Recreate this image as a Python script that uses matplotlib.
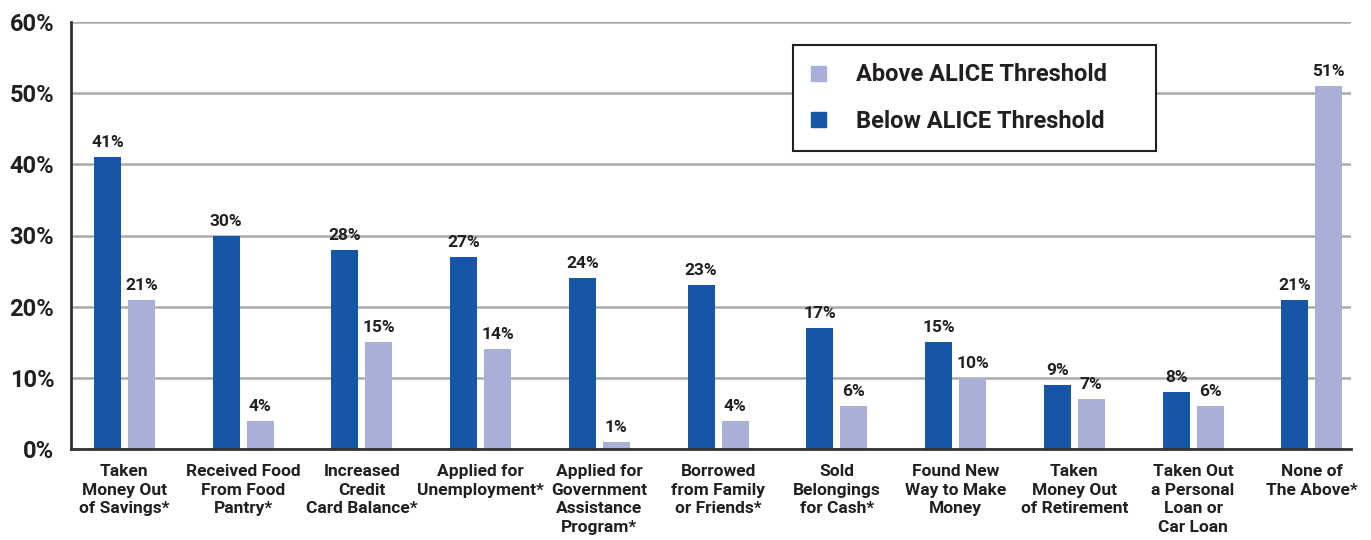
import numpy as np
import matplotlib.pyplot as plt
from matplotlib.patches import Patch

plt.rcParams['font.family'] = ['Roboto', 'DejaVu Sans']

categories = [
    "Taken\nMoney Out\nof Savings*",
    "Received Food\nFrom Food\nPantry*",
    "Increased\nCredit\nCard Balance*",
    "Applied for\nUnemployment*",
    "Applied for\nGovernment\nAssistance\nProgram*",
    "Borrowed\nfrom Family\nor Friends*",
    "Sold\nBelongings\nfor Cash*",
    "Found New\nWay to Make\nMoney",
    "Taken\nMoney Out\nof Retirement",
    "Taken Out\na Personal\nLoan or\nCar Loan",
    "None of\nThe Above*",
]
below = [41, 30, 28, 27, 24, 23, 17, 15, 9, 8, 21]
above = [21, 4, 15, 14, 1, 4, 6, 10, 7, 6, 51]

dark = '#1557a6'
light = '#a8b0d7'
txt = '#231f20'

fig = plt.figure(figsize=(13.71, 5.40), dpi=100)
ax = fig.add_axes([71 / 1371, 1 - 449 / 540, 1280 / 1371, 427 / 540])

x = np.arange(len(categories))
w = 0.227
off = 0.143
bars_b = ax.bar(x - off, below, w, color=dark, zorder=3)
bars_a = ax.bar(x + off, above, w, color=light, zorder=3)

for bars, vals in ((bars_b, below), (bars_a, above)):
    for b, v in zip(bars, vals):
        ax.annotate(f"{v}%", (b.get_x() + b.get_width() / 2, v),
                    xytext=(0, 5), textcoords='offset points',
                    ha='center', va='bottom', fontsize=12.5,
                    fontweight='bold', color=txt)

ax.set_xlim(-0.45, 10.33)
ax.set_ylim(0, 60)
ax.set_yticks(range(0, 61, 10))
ax.set_yticklabels([f"{t}%" for t in range(0, 61, 10)],
                   fontsize=17, fontweight='bold', color=txt)
ax.set_xticks(x)
ax.set_xticklabels(categories, fontsize=12.5, fontweight='bold', color=txt,
                   linespacing=1.3, va='top')
ax.tick_params(axis='both', length=0)
ax.tick_params(axis='x', pad=11)
ax.tick_params(axis='y', pad=12)

ax.grid(axis='y', color='#aaaaaa', linewidth=1.8, zorder=0)
for s in ('top', 'right'):
    ax.spines[s].set_visible(False)
for s in ('left', 'bottom'):
    ax.spines[s].set_color('#333333')
    ax.spines[s].set_linewidth(2)
    ax.spines[s].set_zorder(4)

# legend box stretched to a fixed width so the right margin stays wide
handles = [Patch(color=light), Patch(color=dark)]
leg = ax.legend(handles, ["Above ALICE Threshold", "Below ALICE Threshold"],
                loc='upper left',
                bbox_to_anchor=(722 / 1280, 1 - 23 / 427 - 0.01, 363 / 1280, 0.01),
                mode='expand',
                prop={'weight': 'bold', 'size': 17, 'family': ['Roboto', 'DejaVu Sans']},
                frameon=True, fancybox=False, edgecolor='#231f20',
                handlelength=0.6, handleheight=0.6, handletextpad=1.3,
                borderpad=0.78, labelspacing=1.0, borderaxespad=0)
leg.get_frame().set_linewidth(1.5)
leg.get_frame().set_alpha(1)
for t in leg.get_texts():
    t.set_color(txt)

fig.savefig('out.png', dpi=100)
